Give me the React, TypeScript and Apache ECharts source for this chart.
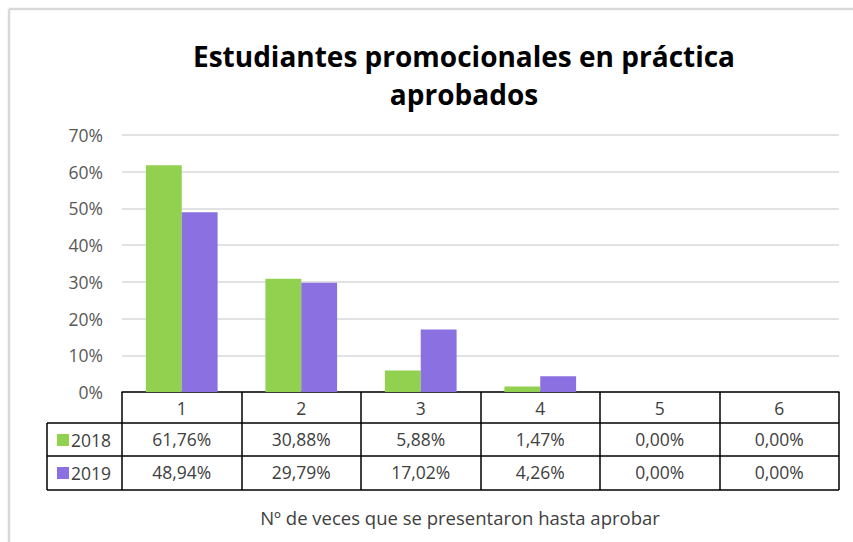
import React, { useEffect, useRef } from "react";
import * as echarts from "echarts";

const categories = ["1", "2", "3", "4", "5", "6"];
const seriesNames = ["2018", "2019"];
const values2018 = [61.76, 30.88, 5.88, 1.47, 0, 0];
const values2019 = [48.94, 29.79, 17.02, 4.26, 0, 0];
const yTicks = { min: 0, max: 70, interval: 10 };
const xAxisTitle = "Nº de veces que se presentaron hasta aprobar";

const fmt = (v: number) => v.toFixed(2).replace(".", ",") + "%";
const FONT = "'Open Sans', sans-serif";
const GREEN = "#92D050";
const PURPLE = "#8A70E0";
const FS = 17.5;

export default function App() {
  const ref = useRef<HTMLDivElement>(null);
  useEffect(() => {
    const chart = echarts.init(ref.current!, null, { renderer: "svg" });
    const gLeft = 122, gRight = 839, gTop = 135, gBottom = 392;
    const rows = [423, 456, 490];
    const line = (x1: number, y1: number, x2: number, y2: number, stroke: string, w: number) => ({
      type: "line",
      shape: { x1, y1, x2, y2 },
      style: { stroke, lineWidth: w },
      silent: true,
    });
    chart.setOption({
      animation: false,
      textStyle: { fontFamily: FONT },
      title: {
        text: "Estudiantes promocionales en práctica\naprobados",
        left: 459,
        textAlign: "center",
        top: 32,
        textStyle: { fontSize: 28, fontWeight: "bold", color: "#000", lineHeight: 38, fontFamily: FONT },
      },
      legend: seriesNames.map((n, i) => ({
        data: [n],
        left: 52,
        top: rows[0] + 3 + i * 33,
        itemWidth: 12,
        itemHeight: 12,
        itemGap: 4,
        icon: "rect",
        textStyle: { fontSize: FS, color: "#404040", fontFamily: FONT, padding: [0, 0, 0, -3] },
        selectedMode: false,
      })),
      grid: { left: gLeft, right: 853 - gRight, top: gTop, bottom: 542 - gBottom, containLabel: false },
      xAxis: [
        {
          type: "category",
          data: categories,
          axisLine: { lineStyle: { color: "#000", width: 1.5 } },
          axisTick: { show: true, interval: 0, length: rows[2] - gBottom, lineStyle: { color: "#000", width: 1.5 } },
          axisLabel: { fontSize: FS, color: "#404040", margin: 7, interval: 0 },
        },
        {
          type: "category",
          data: categories,
          position: "bottom",
          offset: 31,
          axisLine: { show: false },
          axisTick: { show: false },
          axisLabel: { fontSize: FS, color: "#404040", margin: 7, interval: 0, formatter: (_v: string, i: number) => fmt(values2018[i]) },
        },
        {
          type: "category",
          data: categories,
          position: "bottom",
          offset: 64,
          axisLine: { show: false },
          axisTick: { show: false },
          axisLabel: { fontSize: FS, color: "#404040", margin: 7, interval: 0, formatter: (_v: string, i: number) => fmt(values2019[i]) },
        },
      ],
      yAxis: {
        type: "value",
        min: yTicks.min,
        max: yTicks.max,
        interval: yTicks.interval,
        axisLabel: { formatter: "{value}%", fontSize: FS, color: "#595959", margin: 19 },
        splitLine: { lineStyle: { color: "#D9D9D9", width: 1.5 } },
        axisLine: { show: false },
        axisTick: { show: false },
      },
      series: [
        { name: seriesNames[0], type: "bar", data: values2018, itemStyle: { color: GREEN }, barGap: "0%", barCategoryGap: "40%" },
        { name: seriesNames[1], type: "bar", data: values2019, itemStyle: { color: PURPLE }, barGap: "0%", barCategoryGap: "40%" },
      ],
      graphic: [
        line(9, 9, 853, 9, "#D9D9D9", 2.5),
        line(9, 9, 9, 542, "#D9D9D9", 2.5),
        line(47, rows[0], gRight, rows[0], "#000", 1.5),
        line(47, rows[1], gRight, rows[1], "#000", 1.5),
        line(47, rows[2], gRight, rows[2], "#000", 1.5),
        line(47, rows[0], 47, rows[2], "#000", 1.5),
        {
          type: "text",
          x: 460,
          y: 517,
          style: { text: xAxisTitle, fontSize: 18.5, fill: "#404040", fontFamily: FONT, align: "center", verticalAlign: "middle" },
          silent: true,
        },
      ],
    });
    return () => chart.dispose();
  }, []);
  return <div ref={ref} style={{ position: "absolute", left: 0, top: 0, width: 853, height: 542, background: "#fff" }} />;
}
